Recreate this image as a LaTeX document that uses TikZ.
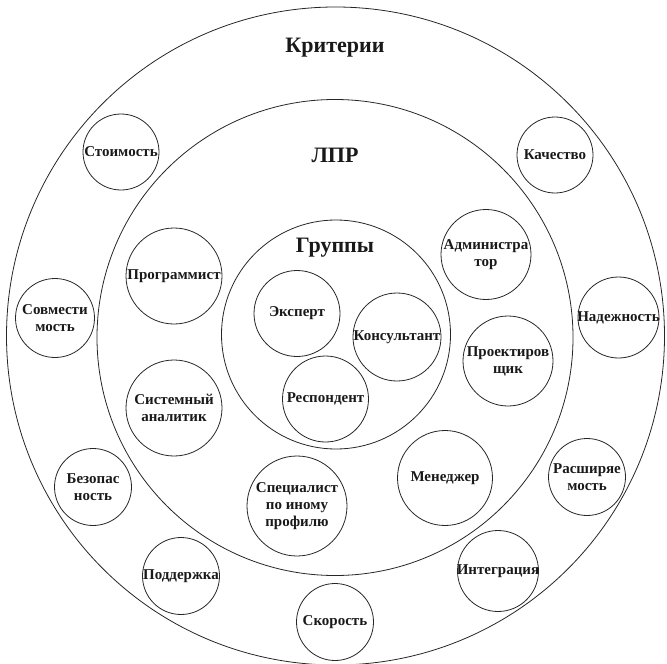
\documentclass[tikz,border=0pt]{standalone}
\usepackage{fontspec}
\setmainfont{Liberation Serif}
\begin{document}
\begin{tikzpicture}[x=1pt,y=-1pt,
  ring/.style={draw=black!85, line width=0.8pt, circle, inner sep=0pt, minimum size=#1},
  bub/.style={draw=black!85, line width=0.8pt, circle, inner sep=0pt, minimum size=#1},
  txt/.style={font=\fontsize{15}{17}\selectfont\bfseries, align=center, text=black!90, inner sep=0pt},
  ttl/.style={font=\fontsize{22}{26}\selectfont\bfseries, text=black!90, inner sep=0pt}]
\useasboundingbox (0,0) rectangle (667,664);
% rings
\node[ring=658pt] (outer) at (335.5,336) {};
\node[ring=476pt] (middle) at (335,337.5) {};
\node[ring=229pt] (inner) at (336,334.5) {};
% titles
\node[ttl] (tkrit) at (335,48) {Критерии};
\node[ttl] (tlpr) at (335,155) {ЛПР};
\node[ttl] (tgrp) at (335,248) {Группы};
% criteria
\node[bub=76pt, label={[txt]center:Стоимость}] (cost) at (121,152) {};
\node[bub=76pt, label={[txt]center:Качество}] (qual) at (555,155) {};
\node[bub=79pt, label={[txt]center:Совмести\\мость}] (compat) at (55,318) {};
\node[bub=81pt, label={[txt]center:Надежность}] (rel) at (618.5,317.5) {};
\node[bub=77pt, label={[txt]center:Безопас\\ность}] (sec) at (93,487) {};
\node[bub=77pt, label={[txt]center:Расширяе\\мость}] (ext) at (587,477) {};
\node[bub=77pt, label={[txt]center:Поддержка}] (supp) at (181,576) {};
\node[bub=81pt, label={[txt]center:Интеграция}] (integ) at (498,571) {};
\node[bub=77pt, label={[txt]center:Скорость}] (speed) at (335,622) {};
% LPR
\node[bub=96pt, label={[txt]center:Программист}] (prog) at (174,276) {};
\node[bub=90pt, label={[txt]center:Администра\\тор}] (admin) at (486,254.5) {};
\node[bub=90pt, label={[txt]center:Проектиров\\щик}] (design) at (508,361) {};
\node[bub=96pt, label={[txt]center:Системный\\аналитик}] (analyst) at (174,408) {};
\node[bub=95pt, label={[txt]center:Менеджер}] (manager) at (445,478) {};
\node[bub=100pt, label={[txt]center:Специалист\\по иному\\профилю}] (spec) at (297,506) {};
% groups
\node[bub=86pt, label={[txt]center:Эксперт}] (expert) at (297,313.5) {};
\node[bub=88pt, label={[txt]center:Консультант}] (consult) at (397,337) {};
\node[bub=86pt, label={[txt]center:Респондент}] (resp) at (325.5,399) {};
\end{tikzpicture}
\end{document}
